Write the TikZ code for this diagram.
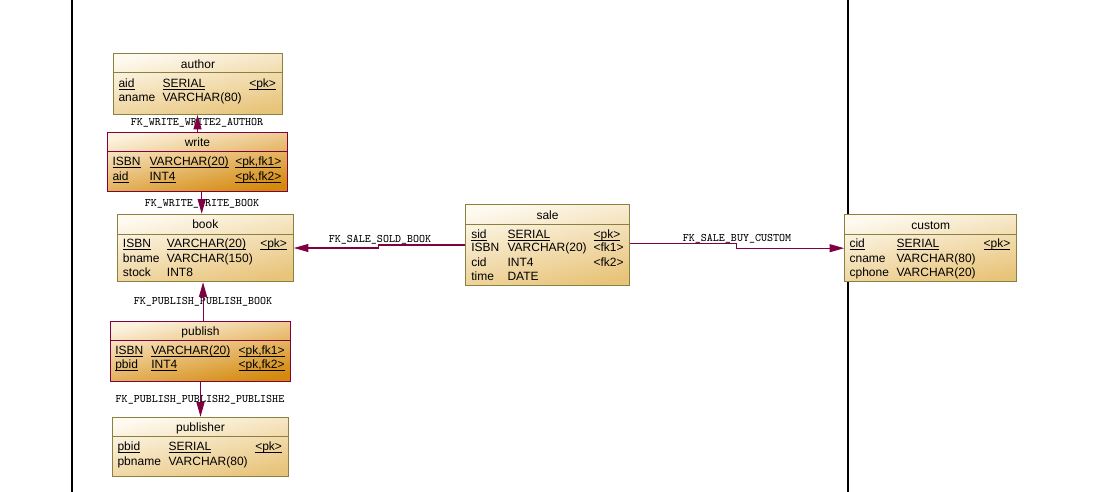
\documentclass[tikz,border=0pt]{standalone}
\usepackage{fontspec}
\setmainfont{Liberation Sans}
\usetikzlibrary{arrows.meta,fit}
\definecolor{entb}{HTML}{8A8040}
\definecolor{entl}{HTML}{FEFAF0}
\definecolor{entd}{HTML}{E8C47A}
\definecolor{ascb}{HTML}{800040}
\definecolor{ascl}{HTML}{FCF2DE}
\definecolor{ascd}{HTML}{D4890C}
\definecolor{fkc}{HTML}{800040}
\newcommand\myul[1]{\setbox0\hbox{#1}\rlap{\rule[-1.6pt]{\wd0}{0.55pt}}\box0}
\tikzset{
  ent/.style={draw=entb, line width=0.75pt, top color=entl, bottom color=entd, shading angle=12, inner sep=0pt},
  asc/.style={draw=ascb, line width=0.75pt, top color=ascl, bottom color=ascd, shading angle=12, inner sep=0pt},
  entline/.style={draw=entb, line width=0.75pt},
  ascline/.style={draw=ascb, line width=0.75pt},
  txt/.style={font=\fontsize{9}{10}\selectfont, inner sep=0pt, anchor=west, text height=6.5pt, text depth=0pt},
  hdr/.style={font=\fontsize{9}{10}\selectfont, inner sep=0pt, anchor=center, text height=6.5pt, text depth=0pt},
  fklabel/.style={font=\ttfamily\fontsize{8.6}{10}\selectfont, inner sep=0pt, anchor=center, text height=5.6pt, text depth=0pt},
  fk/.style={draw=fkc, line width=0.8pt, -{Triangle[length=11pt,width=6pt]}},
  pageline/.style={draw=black, line width=0.8pt}
}
\begin{document}
\begin{tikzpicture}[x=0.75pt,y=-0.75pt]
\useasboundingbox (0,0) rectangle (1120,492);
\fill[white] (0,0) rectangle (1120,492);
% page boundaries
\draw[pageline] (72,0) -- (72,492);
\draw[pageline] (848,0) -- (848,492);

% labels
\node[fklabel] (l1) at (197,122) {FK\_WRITE\_WRITE2\_AUTHOR};
\node[fklabel] (l2) at (202,203) {FK\_WRITE\_WRITE\_BOOK};
\node[fklabel] (l3) at (203,300.5) {FK\_PUBLISH\_PUBLISH\_BOOK};
\node[fklabel] (l4) at (200,398.5) {FK\_PUBLISH\_PUBLISH2\_PUBLISHE};
\node[fklabel] (l5) at (380,238.5) {FK\_SALE\_SOLD\_BOOK};
\node[fklabel] (l6) at (737,237.5) {FK\_SALE\_BUY\_CUSTOM};

% author
\node[ent, fit={(113.3,53.3) (282.7,114.3)}] (author) {};
\draw[entline] (113.3,72.7) -- (282.7,72.7);
\node[hdr] (authorh) at (198,64) {author};
\node[txt] (a1) at (118.3,83) {\myul{aid}};
\node[txt] (a2) at (162.3,83) {\myul{SERIAL}};
\node[txt] (a3) at (249,83) {\myul{<pk>}};
\node[txt] (a4) at (118.3,97.5) {aname};
\node[txt] (a5) at (162.3,97.5) {VARCHAR(80)};

% write
\node[asc, fit={(107.3,132.3) (287.7,191.7)}] (write) {};
\draw[ascline] (107.3,151.7) -- (287.7,151.7);
\node[hdr] (writeh) at (197.5,142) {write};
\node[txt] (w1) at (112.3,161) {\myul{ISBN}};
\node[txt] (w2) at (149.3,161) {\myul{VARCHAR(20)}};
\node[txt] (w3) at (235,161) {\myul{<pk,fk1>}};
\node[txt] (w4) at (112.3,176) {\myul{aid}};
\node[txt] (w5) at (149.3,176) {\myul{INT4}};
\node[txt] (w6) at (235,176) {\myul{<pk,fk2>}};

% book
\node[ent, fit={(117.3,214.3) (293.3,281.7)}] (book) {};
\draw[entline] (117.3,234) -- (293.3,234);
\node[hdr] (bookh) at (205.3,224) {book};
\node[txt] (b1) at (122.7,243) {\myul{ISBN}};
\node[txt] (b2) at (166.7,243) {\myul{VARCHAR(20)}};
\node[txt] (b3) at (260,243) {\myul{<pk>}};
\node[txt] (b4) at (122.7,258) {bname};
\node[txt] (b5) at (166.7,258) {VARCHAR(150)};
\node[txt] (b6) at (122.7,272.5) {stock};
\node[txt] (b7) at (166.7,272.5) {INT8};

% publish
\node[asc, fit={(110.7,321.7) (290.3,381.7)}] (publish) {};
\draw[ascline] (110.7,340.7) -- (290.3,340.7);
\node[hdr] (publishh) at (200.5,331) {publish};
\node[txt] (p1) at (115,350) {\myul{ISBN}};
\node[txt] (p2) at (151,350) {\myul{VARCHAR(20)}};
\node[txt] (p3) at (238.3,350) {\myul{<pk,fk1>}};
\node[txt] (p4) at (115,364.5) {\myul{pbid}};
\node[txt] (p5) at (151,364.5) {\myul{INT4}};
\node[txt] (p6) at (238.3,364.5) {\myul{<pk,fk2>}};

% publisher
\node[ent, fit={(112.3,417.3) (288.7,476.7)}] (publisher) {};
\draw[entline] (112.3,436.7) -- (288.7,436.7);
\node[hdr] (publisherh) at (200.5,427) {publisher};
\node[txt] (q1) at (117.3,446) {\myul{pbid}};
\node[txt] (q2) at (168.3,446) {\myul{SERIAL}};
\node[txt] (q3) at (255,446) {\myul{<pk>}};
\node[txt] (q4) at (117.3,461) {pbname};
\node[txt] (q5) at (168.3,461) {VARCHAR(80)};

% sale
\node[ent, fit={(465.7,204.3) (629.3,285.7)}] (sale) {};
\draw[entline] (465.7,224) -- (629.3,224);
\node[hdr] (saleh) at (547.5,215) {sale};
\node[txt] (s1) at (471,234) {\myul{sid}};
\node[txt] (s2) at (507.3,234) {\myul{SERIAL}};
\node[txt] (s3) at (593.3,234) {\myul{<pk>}};
\node[txt] (s4) at (471,247.5) {ISBN};
\node[txt] (s5) at (507.3,247.5) {VARCHAR(20)};
\node[txt] (s6) at (593.3,247.5) {<fk1>};
\node[txt] (s7) at (471,262.5) {cid};
\node[txt] (s8) at (507.3,262.5) {INT4};
\node[txt] (s9) at (593.3,262.5) {<fk2>};
\node[txt] (s10) at (471,276.5) {time};
\node[txt] (s11) at (507.3,276.5) {DATE};

% custom
\node[ent, fit={(844.7,214.7) (1016.7,281.7)}] (custom) {};
\draw[entline] (844.7,234.3) -- (1016.7,234.3);
\node[hdr] (customh) at (930.7,225) {custom};
\node[txt] (c1) at (849.3,243.5) {\myul{cid}};
\node[txt] (c2) at (896.3,243.5) {\myul{SERIAL}};
\node[txt] (c3) at (983.3,243.5) {\myul{<pk>}};
\node[txt] (c4) at (849.3,258) {cname};
\node[txt] (c5) at (896.3,258) {VARCHAR(80)};
\node[txt] (c6) at (849.3,272) {cphone};
\node[txt] (c7) at (896.3,272) {VARCHAR(20)};

% connectors
\draw[fk] (write.north) -- (write.north |- author.south);
\draw[fk] ([xshift=3.15pt]write.south) coordinate (ws) -- (ws |- book.north);
\draw[fk] ([xshift=1.9pt]publish.north) coordinate (pn) -- (pn |- book.south);
\draw[fk] (publish.south) -- (publisher.north);
\draw[fk] (sale.west) -- ++(-86.4,0) |- (book.east);
\draw[fk] ([yshift=1.3pt]sale.east) -- ++(106.7,0) |- (custom.west);
\end{tikzpicture}
\end{document}
